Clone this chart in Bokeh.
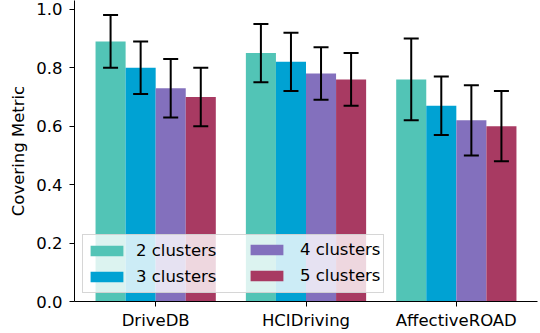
from bokeh.plotting import figure
from bokeh.models import (ColumnDataSource, Range1d, FixedTicker, PrintfTickFormatter,
                          Whisker, TeeHead, Legend, LegendItem)
from bokeh.transform import dodge
from bokeh.embed import file_html
from bokeh.resources import INLINE

categories = ["DriveDB", "HCIDriving", "AffectiveROAD"]
series = ["2 clusters", "3 clusters", "4 clusters", "5 clusters"]
colors = ["#52c4b6", "#00a2d3", "#8370bd", "#a83a62"]
vals_2 = [0.89, 0.85, 0.76]
err_2 = [0.09, 0.10, 0.14]
vals_3 = [0.80, 0.82, 0.67]
err_3 = [0.09, 0.10, 0.10]
vals_4 = [0.73, 0.78, 0.62]
err_4 = [0.10, 0.09, 0.12]
vals_5 = [0.70, 0.76, 0.60]
err_5 = [0.10, 0.09, 0.12]
y_ticks = [0.0, 0.2, 0.4, 0.6, 0.8, 1.0]

values = [vals_2, vals_3, vals_4, vals_5]
errors = [err_2, err_3, err_4, err_5]
offsets = [-0.3, -0.1, 0.1, 0.3]
bar_width = 0.2

FONT = "DejaVu Sans"
FS = "16.5px"

p = figure(width=540, height=333, output_backend="svg", toolbar_location=None,
           x_range=Range1d(-0.54, 2.54), y_range=Range1d(0, 1.03),
           min_border_left=74, min_border_right=3, min_border_top=0, min_border_bottom=32)
p.outline_line_color = None
p.xgrid.visible = False
p.ygrid.visible = False
p.background_fill_color = "white"
p.border_fill_color = "white"

renderers = []
for s, c, v, e, off in zip(series, colors, values, errors, offsets):
    src = ColumnDataSource(dict(
        x=list(range(len(categories))),
        val=v,
        upper=[a + b for a, b in zip(v, e)],
        lower=[a - b for a, b in zip(v, e)],
    ))
    r = p.vbar(x=dodge("x", off, range=p.x_range), top="val", width=bar_width, source=src,
               fill_color=c, line_color=None)
    renderers.append(r)
    w = Whisker(base=dodge("x", off, range=p.x_range), upper="upper", lower="lower", source=src,
                line_color="black", line_width=2, level="overlay",
                upper_head=TeeHead(size=15, line_width=2, line_color="black"),
                lower_head=TeeHead(size=15, line_width=2, line_color="black"))
    p.add_layout(w)

# axes
p.xaxis.ticker = FixedTicker(ticks=list(range(len(categories))))
p.xaxis.major_label_overrides = {i: c for i, c in enumerate(categories)}
p.yaxis.ticker = FixedTicker(ticks=y_ticks)
p.yaxis.formatter = PrintfTickFormatter(format="%.1f")
p.yaxis.axis_label = "Covering Metric"
for ax in (p.xaxis[0], p.yaxis[0]):
    ax.axis_line_color = "black"
    ax.axis_line_width = 1
    ax.major_tick_line_color = "black"
    ax.major_tick_out = 5
    ax.major_tick_in = 0
    ax.minor_tick_line_color = None
    ax.major_label_text_font = FONT
    ax.major_label_text_font_size = FS
    ax.major_label_text_color = "black"
    ax.axis_label_text_font = FONT
    ax.axis_label_text_font_size = FS
    ax.axis_label_text_font_style = "normal"
    ax.axis_label_text_color = "black"
p.xaxis.major_label_standoff = 4
p.yaxis.major_label_standoff = 7
p.yaxis.axis_label_standoff = 5


def make_legend(items, loc, with_box, label_width, standoff):
    lg = Legend(items=items, location=loc, orientation="vertical",
                glyph_width=41, glyph_height=13, label_standoff=standoff,
                label_height=25, label_width=label_width, spacing=1, padding=3, margin=0,
                label_text_font=FONT, label_text_font_size=FS, label_text_color="black")
    if with_box:
        lg.background_fill_color = "white"
        lg.background_fill_alpha = 0.8
        lg.border_line_color = "#cccccc"
        lg.border_line_alpha = 0.8
        lg.border_line_width = 1
    else:
        lg.background_fill_alpha = 0
        lg.border_line_color = None
    return lg


items = [LegendItem(label=s, renderers=[r]) for s, r in zip(series, renderers)]
leg1 = make_legend(items[:2], (8, 8), True, 244, 9)
leg2 = make_legend(items[2:], (172, 13), False, 84, 13)
p.add_layout(leg1)
p.add_layout(leg2)

open("out.html", "w").write(file_html(p, INLINE))
